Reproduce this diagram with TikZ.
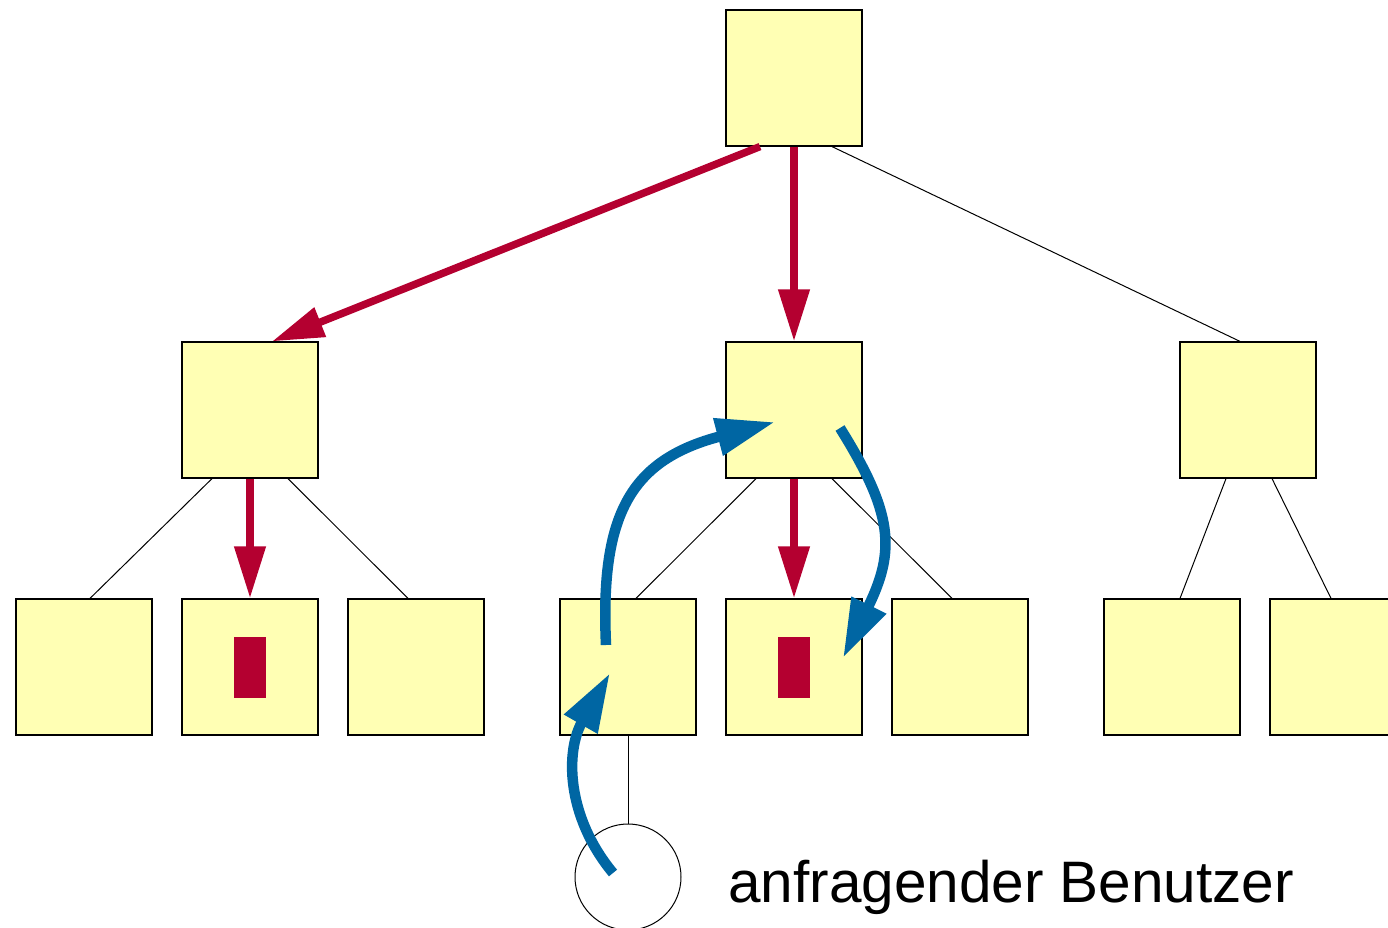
\documentclass[tikz,border=0pt]{standalone}
\usepackage{fontspec}
\setmainfont{Liberation Sans}
\usetikzlibrary{arrows.meta}
\definecolor{gelb}{RGB}{255,255,180}
\definecolor{rot}{RGB}{180,0,48}
\definecolor{blau}{RGB}{0,102,163}

\begin{document}
\begin{tikzpicture}[x=1pt,y=-1pt,
  knoten/.style={draw=black,line width=1.2pt,fill=gelb,minimum size=136pt,inner sep=0pt},
  marke/.style={fill=rot,minimum width=32pt,minimum height=61pt,inner sep=0pt},
  kante/.style={draw=black,line width=1pt},
  suche/.style={draw=rot,line width=7.5pt,-{Triangle[length=52pt,width=30pt]}},
  weg/.style={draw=blau,line width=10.5pt,-{Triangle[length=59pt,width=36pt]}}]
\useasboundingbox (0,0) rectangle (1388,928);
% Baum
\node[knoten] (wurzel) at (794,78) {};
\node[knoten] (links) at (250,410) {};
\node[knoten] (mitte) at (794,410) {};
\node[knoten] (rechts) at (1248,410) {};
\node[knoten] (b1) at (84,667) {};
\node[knoten] (b2) at (250,667) {};
\node[knoten] (b3) at (416,667) {};
\node[knoten] (b4) at (628,667) {};
\node[knoten] (b5) at (794,667) {};
\node[knoten] (b6) at (960,667) {};
\node[knoten] (b7) at (1172,667) {};
\node[knoten] (b8) at (1338,667) {};
\node[marke] (m2) at (b2) {};
\node[marke] (m5) at (b5) {};
\node[draw,line width=1pt,circle,minimum size=106pt,inner sep=0pt] (benutzer) at (628,877) {};
\node[anchor=base west,inner sep=0pt,font=\fontsize{58.5pt}{66pt}\selectfont] (text) at (728,902) {anfragender Benutzer};
% Kanten
\draw[kante] ([xshift=38pt]wurzel.south) -- ([xshift=-8pt]rechts.north);
\draw[kante] ([xshift=-38pt]links.south) -- ([xshift=6pt]b1.north);
\draw[kante] ([xshift=38pt]links.south) -- ([xshift=-8pt]b3.north);
\draw[kante] ([xshift=-38pt]mitte.south) -- ([xshift=8pt]b4.north);
\draw[kante] ([xshift=38pt]mitte.south) -- ([xshift=-8pt]b6.north);
\draw[kante] ([xshift=-22pt]rechts.south) -- ([xshift=8pt]b7.north);
\draw[kante] ([xshift=24pt]rechts.south) -- ([xshift=-7pt]b8.north);
\draw[kante] (b4.south) -- (benutzer.north);
% Suche
\draw[suche] ([xshift=-34pt]wurzel.south) -- ([xshift=22pt]links.north);
\draw[suche] (wurzel.south) -- (mitte.north);
\draw[suche] (links.south) -- (b2.north);
\draw[suche] (mitte.south) -- (b5.north);
% Weg der Anfrage
\coordinate (a0) at (613,873);
\coordinate (a1) at (610,673);
\coordinate (a2) at (606,645);
\coordinate (a3) at (775,422);
\coordinate (a4) at (840,428);
\coordinate (a5) at (843,658);
\draw[weg] (a0) .. controls (565,815) and (566,750) .. (a1);
\draw[weg] (a2) .. controls (600,515) and (630,460) .. (a3);
\draw[weg] (a4) .. controls (893,513) and (896,550) .. (a5);
\end{tikzpicture}
\end{document}
